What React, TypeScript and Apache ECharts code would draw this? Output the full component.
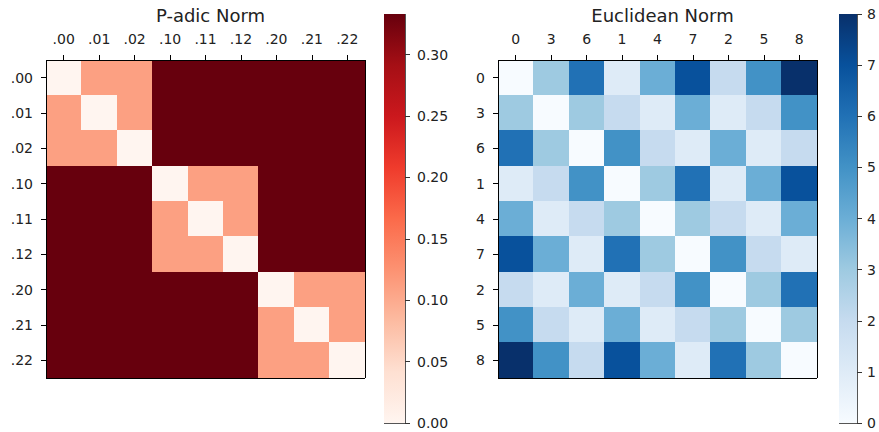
import React, { useEffect, useRef } from "react";
import * as echarts from "echarts";

const padicLabels = [".00", ".01", ".02", ".10", ".11", ".12", ".20", ".21", ".22"];
const padicValues = [
  [0, 0.111, 0.111, 0.333, 0.333, 0.333, 0.333, 0.333, 0.333],
  [0.111, 0, 0.111, 0.333, 0.333, 0.333, 0.333, 0.333, 0.333],
  [0.111, 0.111, 0, 0.333, 0.333, 0.333, 0.333, 0.333, 0.333],
  [0.333, 0.333, 0.333, 0, 0.111, 0.111, 0.333, 0.333, 0.333],
  [0.333, 0.333, 0.333, 0.111, 0, 0.111, 0.333, 0.333, 0.333],
  [0.333, 0.333, 0.333, 0.111, 0.111, 0, 0.333, 0.333, 0.333],
  [0.333, 0.333, 0.333, 0.333, 0.333, 0.333, 0, 0.111, 0.111],
  [0.333, 0.333, 0.333, 0.333, 0.333, 0.333, 0.111, 0, 0.111],
  [0.333, 0.333, 0.333, 0.333, 0.333, 0.333, 0.111, 0.111, 0],
];
const padicMax = 0.333;
const padicTicks = [0, 0.05, 0.1, 0.15, 0.2, 0.25, 0.3];

const euclidLabels = ["0", "3", "6", "1", "4", "7", "2", "5", "8"];
const euclidValues = [
  [0, 3, 6, 1, 4, 7, 2, 5, 8],
  [3, 0, 3, 2, 1, 4, 1, 2, 5],
  [6, 3, 0, 5, 2, 1, 4, 1, 2],
  [1, 2, 5, 0, 3, 6, 1, 4, 7],
  [4, 1, 2, 3, 0, 3, 2, 1, 4],
  [7, 4, 1, 6, 3, 0, 5, 2, 1],
  [2, 1, 4, 1, 2, 5, 0, 3, 6],
  [5, 2, 1, 4, 1, 2, 3, 0, 3],
  [8, 5, 2, 7, 4, 1, 6, 3, 0],
];
const euclidMax = 8;
const euclidTicks = [0, 1, 2, 3, 4, 5, 6, 7, 8];

const reds = ["#fff5f0", "#fee0d2", "#fcbba1", "#fc9272", "#fb6a4a", "#ef3b2c", "#cb181d", "#a50f15", "#67000d"];
const blues = ["#f7fbff", "#deebf7", "#c6dbef", "#9ecae1", "#6baed6", "#4292c6", "#2171b5", "#08519c", "#08306b"];

const FONT = "DejaVu Sans";
const TXT = "#222";

function toCells(m: number[][]) {
  const out: number[][] = [];
  m.forEach((row, r) => row.forEach((v, c) => out.push([c, r, v])));
  return out;
}

function gradient(colors: string[]) {
  return new echarts.graphic.LinearGradient(
    0, 1, 0, 0,
    colors.map((c, i) => ({ offset: i / (colors.length - 1), color: c }))
  );
}

export default function App() {
  const ref = useRef<HTMLDivElement>(null);
  useEffect(() => {
    if (!ref.current) return;
    const chart = echarts.init(ref.current, null, { renderer: "svg" });

    const heatGrids = [
      { left: 46, top: 60, width: 319, height: 318 },
      { left: 498, top: 60, width: 319, height: 318 },
    ];
    const cbGrids = [
      { left: 384, top: 14, width: 21, height: 409 },
      { left: 839, top: 14, width: 21, height: 409 },
    ];

    const grid: any[] = [
      { ...heatGrids[0], show: false },
      { ...cbGrids[0], show: true, borderColor: "#555", borderWidth: 1 },
      { ...heatGrids[1], show: false },
      { ...cbGrids[1], show: true, borderColor: "#555", borderWidth: 1 },
    ];

    const xAxis: any[] = [];
    const yAxis: any[] = [];

    const heatAxes = (gi: number, labels: string[]) => {
      xAxis.push({
        type: "category", gridIndex: gi, position: "top", data: labels, z: 10,
        axisLine: { show: true, lineStyle: { color: "#000", width: 1 } },
        axisTick: { show: true, alignWithLabel: true, length: 5, lineStyle: { color: "#000" } },
        axisLabel: { fontSize: 14, color: TXT, fontFamily: FONT, margin: 14 },
        splitLine: { show: false },
      });
      xAxis.push({
        type: "category", gridIndex: gi, position: "bottom", data: labels, z: 10,
        axisLine: { show: true, lineStyle: { color: "#000", width: 1 } },
        axisTick: { show: false }, axisLabel: { show: false }, splitLine: { show: false },
      });
      yAxis.push({
        type: "category", gridIndex: gi, position: "left", data: labels, inverse: true, z: 10,
        axisLine: { show: true, lineStyle: { color: "#000", width: 1 } },
        axisTick: { show: true, alignWithLabel: true, length: 5, lineStyle: { color: "#000" } },
        axisLabel: { fontSize: 14, color: TXT, fontFamily: FONT, margin: 13 },
        splitLine: { show: false },
      });
      yAxis.push({
        type: "category", gridIndex: gi, position: "right", data: labels, inverse: true, z: 10,
        axisLine: { show: true, lineStyle: { color: "#000", width: 1 } },
        axisTick: { show: false }, axisLabel: { show: false }, splitLine: { show: false },
      });
    };

    const cbAxes = (gi: number, max: number, ticks: number[], digits: number, margin: number) => {
      xAxis.push({
        type: "category", gridIndex: gi, data: ["cb"], show: false, boundaryGap: true,
      });
      yAxis.push({
        type: "value", gridIndex: gi, position: "right", min: 0, max, z: 10,
        axisLine: { show: false },
        axisTick: { show: true, length: 5, lineStyle: { color: "#333" }, customValues: ticks },
        axisLabel: {
          fontSize: 14, color: TXT, fontFamily: FONT, margin,
          customValues: ticks,
          formatter: (v: number) => v.toFixed(digits),
        },
        splitLine: { show: false },
      });
    };

    heatAxes(0, padicLabels);
    cbAxes(1, padicMax, padicTicks, 2, 12);
    heatAxes(2, euclidLabels);
    cbAxes(3, euclidMax, euclidTicks, 0, 10);

    const option: any = {
      animation: false,
      backgroundColor: "#fff",
      title: [
        {
          text: "P-adic Norm", left: 205.5, top: 1, textAlign: "center",
          textStyle: { fontSize: 18, fontWeight: "normal", color: TXT, fontFamily: FONT },
        },
        {
          text: "Euclidean Norm", left: 657.5, top: 1, textAlign: "center",
          textStyle: { fontSize: 18, fontWeight: "normal", color: TXT, fontFamily: FONT },
        },
      ],
      grid,
      xAxis,
      yAxis,
      visualMap: [
        { type: "continuous", show: false, seriesIndex: 0, min: 0, max: padicMax, dimension: 2, inRange: { color: reds } },
        { type: "continuous", show: false, seriesIndex: 2, min: 0, max: euclidMax, dimension: 2, inRange: { color: blues } },
      ],
      series: [
        {
          type: "heatmap", xAxisIndex: 0, yAxisIndex: 0, data: toCells(padicValues),
          itemStyle: { borderWidth: 0 }, emphasis: { disabled: true },
        },
        {
          type: "bar", xAxisIndex: 2, yAxisIndex: 2, data: [padicMax], barWidth: "100%",
          itemStyle: { color: gradient(reds) }, silent: true,
        },
        {
          type: "heatmap", xAxisIndex: 3, yAxisIndex: 3, data: toCells(euclidValues),
          itemStyle: { borderWidth: 0 }, emphasis: { disabled: true },
        },
        {
          type: "bar", xAxisIndex: 5, yAxisIndex: 5, data: [euclidMax], barWidth: "100%",
          itemStyle: { color: gradient(blues) }, silent: true,
        },
      ],
    };
    chart.setOption(option);
    return () => chart.dispose();
  }, []);

  return (
    <>
      <style>{`.chart-host svg path, .chart-host svg rect { shape-rendering: crispEdges; }`}</style>
      <div
        ref={ref}
        className="chart-host"
        style={{ position: "fixed", left: 0, top: 0, width: 879, height: 432, background: "#fff" }}
      />
    </>
  );
}
